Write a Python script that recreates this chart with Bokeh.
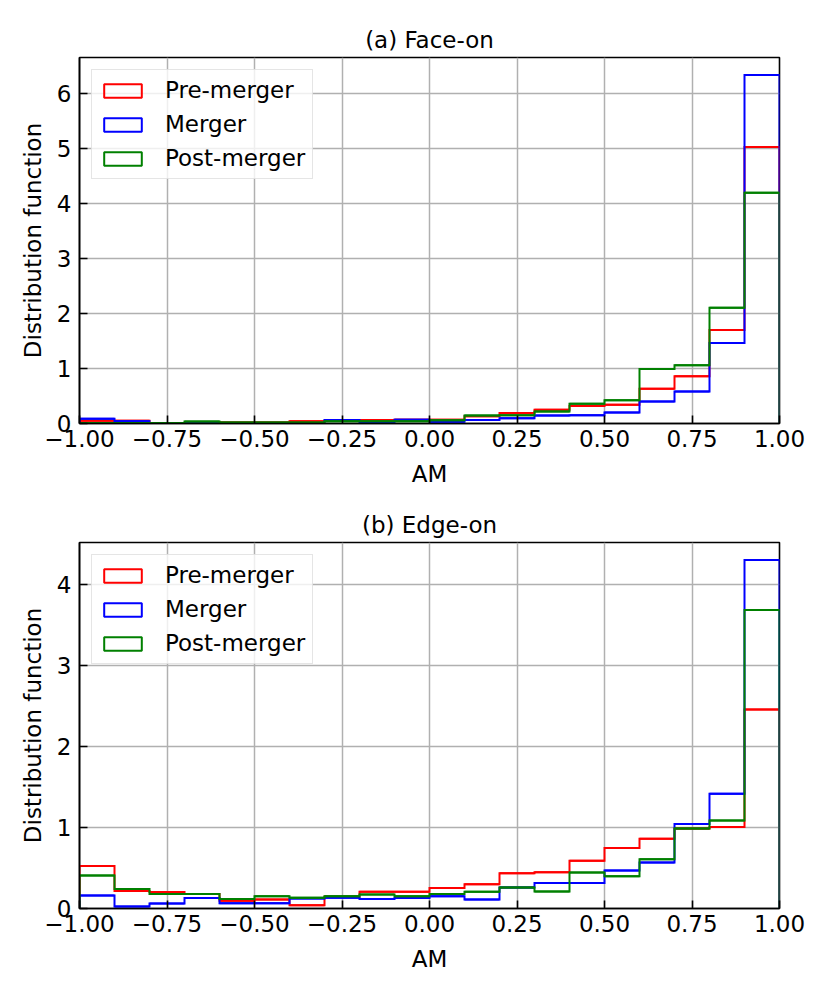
import numpy as np
from bokeh.plotting import figure
from bokeh.layouts import column
from bokeh.models import (FixedTicker, Legend, LegendItem, Range1d, Title,
                          ColumnDataSource)
from bokeh.embed import file_html
from bokeh.resources import INLINE

# ---------------- data ----------------
bin_edges = [-1.0, -0.9, -0.8, -0.7, -0.6, -0.5, -0.4, -0.3, -0.2, -0.1, 0.0,
             0.1, 0.2, 0.3, 0.4, 0.5, 0.6, 0.7, 0.8, 0.9, 1.0]

# (a) Face-on
pre_face = [0.05, 0.05, 0.01, 0.01, 0.02, 0.02, 0.04, 0.05, 0.065, 0.07,
            0.07, 0.13, 0.19, 0.25, 0.32, 0.34, 0.63, 0.86, 1.70, 5.02]
merger_face = [0.085, 0.04, 0.005, 0.005, 0.01, 0.005, 0.01, 0.065, 0.02, 0.07,
               0.03, 0.065, 0.095, 0.145, 0.15, 0.20, 0.40, 0.58, 1.46, 6.33]
post_face = [0.01, 0.01, 0.01, 0.035, 0.02, 0.02, 0.02, 0.04, 0.04, 0.04,
             0.06, 0.145, 0.15, 0.22, 0.36, 0.42, 0.99, 1.06, 2.10, 4.19]

# (b) Edge-on
pre_edge = [0.527, 0.216, 0.203, 0.18, 0.095, 0.112, 0.041, 0.145, 0.207, 0.207,
            0.253, 0.30, 0.436, 0.448, 0.589, 0.747, 0.863, 0.988, 1.008, 2.46]
merger_edge = [0.162, 0.025, 0.062, 0.13, 0.066, 0.066, 0.124, 0.133, 0.116, 0.129,
               0.153, 0.112, 0.26, 0.315, 0.315, 0.469, 0.568, 1.046, 1.42, 4.31]
post_edge = [0.407, 0.24, 0.178, 0.18, 0.116, 0.153, 0.133, 0.153, 0.174, 0.153,
             0.178, 0.207, 0.26, 0.21, 0.444, 0.40, 0.61, 0.988, 1.087, 3.69]

series_labels = ["Pre-merger", "Merger", "Post-merger"]
series_colors = ["red", "blue", "green"]

x_ticks = [-1.0, -0.75, -0.5, -0.25, 0.0, 0.25, 0.5, 0.75, 1.0]
x_tick_labels = ["\u22121.00", "\u22120.75", "\u22120.50", "\u22120.25", "0.00",
                 "0.25", "0.50", "0.75", "1.00"]
y_ticks_face = [0, 1, 2, 3, 4, 5, 6]
y_ticks_edge = [0, 1, 2, 3, 4]

titles = ["(a) Face-on", "(b) Edge-on"]
x_label = "AM"
y_label = "Distribution function"

FONT = "DejaVu Sans"
FS = "23px"
LW = 2.0


def step_xy(edges, vals):
    xs = [edges[0]]
    ys = [0.0]
    for i, v in enumerate(vals):
        xs += [edges[i], edges[i + 1]]
        ys += [v, v]
    xs.append(edges[-1])
    ys.append(0.0)
    return xs, ys


def make_panel(title, series, y_ticks, border_top, border_bottom):
    ymax = max(max(s) for s in series) * 1.05
    p = figure(output_backend="svg", toolbar_location=None,
               frame_width=700, frame_height=366,
               min_border_left=79, min_border_right=43,
               min_border_top=border_top, min_border_bottom=border_bottom,
               x_range=Range1d(-1.0, 1.0), y_range=Range1d(0, ymax))
    p.title = Title(text=title, align="center", text_font=FONT,
                    text_font_size=FS, text_font_style="normal",
                    text_color="black", standoff=10)
    p.background_fill_color = "white"
    p.border_fill_color = "white"
    p.outline_line_color = "black"
    p.outline_line_width = 1.6

    for ax in (p.xaxis[0], p.yaxis[0]):
        ax.axis_line_color = "black"
        ax.axis_line_width = 1.6
        ax.major_tick_in = 8
        ax.major_tick_out = 0
        ax.minor_tick_in = 0
        ax.minor_tick_out = 0
        ax.major_tick_line_width = 1.6
        ax.major_tick_line_color = "black"
        ax.major_label_text_font = FONT
        ax.major_label_text_font_size = FS
        ax.major_label_text_color = "black"
        ax.axis_label_text_font = FONT
        ax.axis_label_text_font_size = FS
        ax.axis_label_text_font_style = "normal"
        ax.axis_label_text_color = "black"

    p.xaxis.ticker = FixedTicker(ticks=x_ticks)
    p.xaxis.major_label_overrides = {t: l for t, l in zip(x_ticks, x_tick_labels)}
    p.xaxis.major_label_standoff = 6
    p.xaxis.axis_label = x_label
    p.xaxis.axis_label_standoff = 11

    p.yaxis.ticker = FixedTicker(ticks=y_ticks)
    p.yaxis.major_label_standoff = 8
    p.yaxis.axis_label = y_label
    p.yaxis.axis_label_standoff = 8

    for g in (p.xgrid[0], p.ygrid[0]):
        g.grid_line_color = "#b0b0b0"
        g.grid_line_width = 1.5

    items = []
    for vals, lab, col in zip(series, series_labels, series_colors):
        xs, ys = step_xy(bin_edges, vals)
        p.line(xs, ys, line_color=col, line_width=LW, line_join="miter")
        # bin tops as zero-height quads: they coincide with the step outline
        # and give the legend an outlined-rectangle (patch) glyph
        src = ColumnDataSource(dict(left=bin_edges[:-1], right=bin_edges[1:],
                                    top=vals, bottom=vals))
        tops = p.quad(left="left", right="right", top="top", bottom="bottom",
                      source=src, fill_color=None, line_color=col,
                      line_width=LW)
        items.append(LegendItem(label=lab, renderers=[tops]))

    leg = Legend(items=items, location="top_left",
                 label_text_font=FONT, label_text_font_size=FS,
                 label_text_color="black",
                 glyph_width=47, glyph_height=17, label_standoff=19,
                 label_height=26, spacing=8, padding=7, margin=12,
                 border_line_color="#cccccc", border_line_width=1.5,
                 background_fill_color="white", background_fill_alpha=0.8)
    p.add_layout(leg)
    return p


p1 = make_panel(titles[0], [pre_face, merger_face, post_face], y_ticks_face, 57, 70)
p2 = make_panel(titles[1], [pre_edge, merger_edge, post_edge], y_ticks_edge, 49, 75)

layout = column(p1, p2)
open("out.html", "w").write(file_html(layout, INLINE))
